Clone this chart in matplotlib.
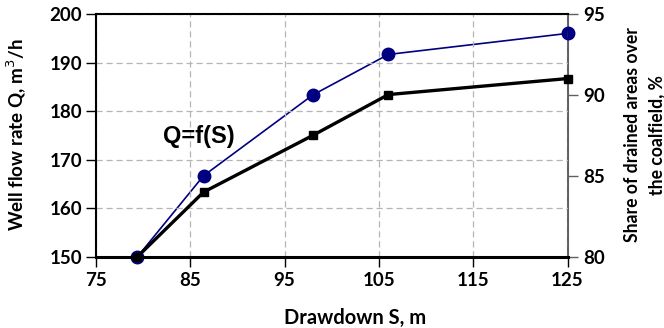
import matplotlib
matplotlib.use("Agg")
import matplotlib.pyplot as plt

drawdown = [79.4, 86.4, 98.0, 106.0, 125.0]
flow_rate = [150.0, 163.3, 175.0, 183.4, 186.7]
drained_share = [80.0, 85.0, 90.0, 92.5, 93.8]

x_ticks = [75, 85, 95, 105, 115, 125]
left_ticks = [150, 160, 170, 180, 190, 200]
right_ticks = [80, 85, 90, 95]

W, H = 664, 328
fig = plt.figure(figsize=(W / 100, H / 100), dpi=100)
ax = fig.add_axes([96 / W, 1 - 256.7 / H, (567.5 - 96) / W, (256.7 - 14) / H])
ax2 = ax.twinx()
ax.set_zorder(2)
ax2.set_zorder(1)
ax.patch.set_visible(False)

ax2.plot(drawdown, drained_share, color="#000080", lw=1.2, marker="o", ms=9, zorder=3, clip_on=False)
ax.plot(drawdown, flow_rate, color="black", lw=2.4, marker="s", ms=5.8, zorder=3, clip_on=False)

ax.set_xlim(75, 125)
ax.set_ylim(150, 200)
ax2.set_ylim(80, 95)
ax.set_xticks(x_ticks)
ax.set_yticks(left_ticks)
ax2.set_yticks(right_ticks)

ax.grid(True, color="#b5b5b5", ls=(0, (5, 3)), lw=0.9, zorder=0)

for sp in ["top", "left"]:
    ax.spines[sp].set_linewidth(1.5)
    ax.spines[sp].set_color("black")
ax.spines["bottom"].set_linewidth(2.2)
ax.spines["right"].set_visible(False)
ax2.spines["right"].set_color("#606060")
ax2.spines["right"].set_linewidth(1.5)
for sp in ["top", "left", "bottom"]:
    ax2.spines[sp].set_visible(False)

tick_size = 13.5
ax.tick_params(axis="x", direction="out", length=7, width=1, colors="black", labelsize=tick_size, pad=4)
ax.tick_params(axis="y", direction="out", length=7, width=1, colors="black", labelsize=tick_size, pad=3)
ax2.tick_params(axis="y", direction="out", length=7, width=1, color="#606060", labelcolor="black",
                labelsize=tick_size, pad=4)
for lab in ax.get_xticklabels() + ax.get_yticklabels() + ax2.get_yticklabels():
    lab.set_fontfamily("Lato")
    lab.set_fontweight("bold")

fig.text(355 / W, 1 - 318 / H, "Drawdown S, m", fontsize=14.5, family="Lato", weight="bold",
         ha="center", va="center")
fig.text(16 / W, 1 - 135 / H, "Well flow rate Q, m$^3$/h", fontsize=13.5, family="Lato", weight="bold",
         rotation=90, ha="center", va="center")
fig.text(645 / W, 1 - 135 / H, "Share of drained areas over\nthe coalfield, %", fontsize=12.7,
         family="Lato", weight="bold", rotation=90, ha="center", va="center", linespacing=1.5)

ax.text(82.1, 174.8, "Q=f(S)", fontsize=17, family="Liberation Sans", weight="bold",
        ha="left", va="center", zorder=4)

fig.savefig("out.png", dpi=100)
